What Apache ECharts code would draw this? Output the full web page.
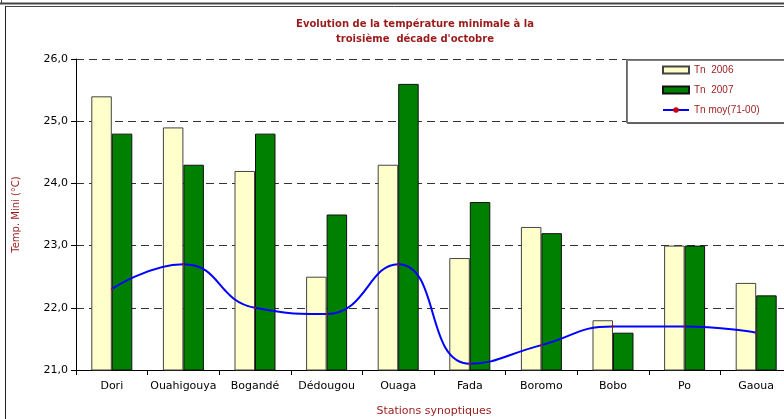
<!DOCTYPE html>
<html>
<head>
<meta charset="utf-8">
<script src="https://cdn.jsdelivr.net/npm/echarts@6/dist/echarts.min.js"></script>
<style>
  html, body { margin: 0; padding: 0; background: #fff; }
  #chart { width: 784px; height: 419px; }
</style>
</head>
<body>
<div id="chart"></div>
<script>
// données
const stations = ['Dori', 'Ouahigouya', 'Bogandé', 'Dédougou', 'Ouaga', 'Fada', 'Boromo', 'Bobo', 'Po', 'Gaoua']
const tn2006 = [25.4, 24.9, 24.2, 22.5, 24.3, 22.8, 23.3, 21.8, 23.0, 22.4]
const tn2007 = [24.8, 24.3, 24.8, 23.5, 25.6, 23.7, 23.2, 21.6, 23.0, 22.2]
const tnMoy = [22.3, 22.7, 22.0, 21.9, 22.7, 21.1, 21.4, 21.7, 21.7, 21.6]

const RED = '#9a1a1a'
// le texte de l'original est étiré en largeur : DejaVu Sans s'en approche
const WIDE = 'DejaVu Sans, Verdana, sans-serif'
const FONT = 'Liberation Sans, Arial, sans-serif'

const chart = echarts.init(document.getElementById('chart'))

chart.setOption({
  animation: false,
  textStyle: { fontFamily: WIDE },
  title: {
    text: 'Evolution de la température minimale à la\ntroisième  décade d\'octobre',
    left: 415,
    textAlign: 'center',
    top: 17,
    padding: 0,
    textStyle: { color: RED, fontSize: 10, fontWeight: 'bold', lineHeight: 15, fontFamily: WIDE },
  },
  grid: {
    left: 76,
    top: 59,
    width: 716,
    height: 311,
    outerBoundsMode: 'none',
    containLabel: false,
  },
  legend: {
    orient: 'vertical',
    left: 662,
    top: 65,
    padding: 0,
    itemWidth: 26,
    itemHeight: 7,
    itemGap: 10,
    textStyle: { color: RED, fontSize: 10, fontFamily: FONT },
    data: [
      { name: 'Tn  2006', icon: 'rect' },
      { name: 'Tn  2007', icon: 'rect' },
      { name: 'Tn moy(71-00)' },
    ],
  },
  xAxis: {
    type: 'category',
    data: stations,
    name: 'Stations synoptiques',
    nameLocation: 'middle',
    nameGap: 36,
    nameTextStyle: { color: RED, fontSize: 11, fontFamily: WIDE },
    axisLine: { lineStyle: { color: '#000', width: 1 } },
    axisTick: { show: true, length: 5, inside: false, lineStyle: { color: '#000' } },
    axisLabel: { color: '#000', fontSize: 11, margin: 11, interval: 0, fontFamily: WIDE },
    splitLine: { show: false },
  },
  yAxis: {
    type: 'value',
    min: 21,
    max: 26,
    interval: 1,
    name: 'Temp. Mini (°C)',
    nameLocation: 'middle',
    nameGap: 55,
    nameTextStyle: { color: RED, fontSize: 10, fontFamily: WIDE },
    axisLine: { show: true, lineStyle: { color: '#000', width: 1 } },
    axisTick: { show: true, length: 5, lineStyle: { color: '#000' } },
    axisLabel: {
      color: '#000',
      fontSize: 11,
      margin: 8,
      fontFamily: WIDE,
      formatter: (v) => v.toFixed(1).replace('.', ','),
    },
    splitLine: { show: true, lineStyle: { color: '#333', type: [8, 5], width: 1 } },
  },
  series: [
    {
      name: 'Tn  2006',
      type: 'bar',
      data: tn2006,
      barWidth: 20.5,
      barGap: '0%',
      itemStyle: { color: '#ffffcc', borderColor: '#444', borderWidth: 1 },
    },
    {
      name: 'Tn  2007',
      type: 'bar',
      data: tn2007,
      barWidth: 20.5,
      barGap: '0%',
      itemStyle: { color: '#008000', borderColor: '#111', borderWidth: 1 },
    },
    {
      name: 'Tn moy(71-00)',
      type: 'line',
      data: tnMoy,
      smooth: 0.5,
      symbol: 'circle',
      symbolSize: 2,
      itemStyle: { color: '#d00000' },
      lineStyle: { color: '#0000ff', width: 2 },
      z: 5,
    },
  ],
  graphic: [
    // cadre de la page
    { type: 'line', shape: { x1: 0, y1: 3.5, x2: 784, y2: 3.5 }, style: { stroke: '#444', lineWidth: 2 } },
    { type: 'line', shape: { x1: 5, y1: 6.5, x2: 784, y2: 6.5 }, style: { stroke: '#444', lineWidth: 1 } },
    { type: 'line', shape: { x1: 1.5, y1: 0, x2: 1.5, y2: 4 }, style: { stroke: '#444', lineWidth: 1 } },
    { type: 'line', shape: { x1: 5.5, y1: 6, x2: 5.5, y2: 419 }, style: { stroke: '#222', lineWidth: 1 } },
    // boîte de la légende
    {
      type: 'rect',
      z: 3,
      shape: { x: 626.5, y: 59.5, width: 170, height: 63 },
      style: { fill: '#fff', stroke: '#666', lineWidth: 1, shadowColor: 'rgba(0,0,0,0.5)', shadowOffsetX: 1, shadowOffsetY: 1 },
    },
  ],
})
</script>
</body>
</html>
